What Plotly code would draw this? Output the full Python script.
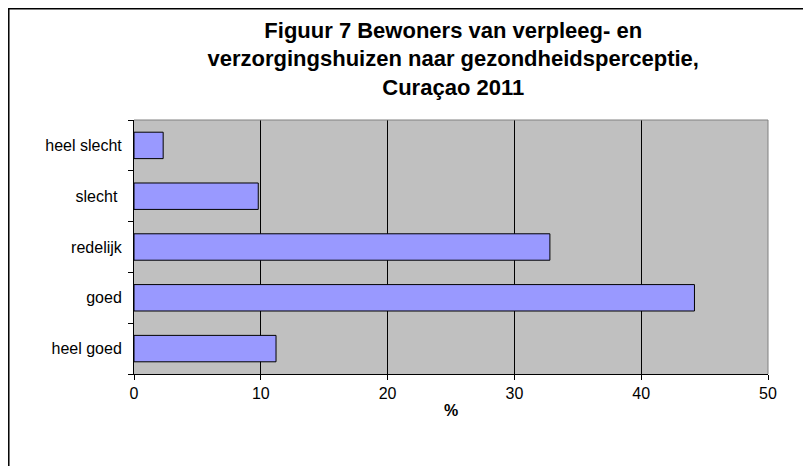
import plotly.graph_objects as go

categories = ["heel goed", "goed", "redelijk", "slecht ", "heel slecht"]
percentages = [11.2, 44.2, 32.8, 9.8, 2.3]
x_ticks = [0, 10, 20, 30, 40, 50]

fig = go.Figure()
fig.add_trace(go.Bar(
    y=categories, x=percentages, orientation="h",
    marker=dict(color="#9999FF", line=dict(color="#000000", width=1)),
    width=0.52,
))

# chart frame (left and top edges visible in the original)
fig.add_shape(type="rect", xref="paper", yref="paper",
              x0=-0.1975, x1=1.2, y0=-0.5, y1=1.438,
              line=dict(color="#000000", width=1.5), layer="below")
# plot area top/right border
fig.add_shape(type="line", xref="paper", yref="paper", x0=0, x1=1, y0=1, y1=1,
              line=dict(color="#808080", width=1))
fig.add_shape(type="line", xref="paper", yref="paper", x0=1, x1=1, y0=0, y1=1,
              line=dict(color="#808080", width=1))

fig.update_layout(
    width=811, height=466,
    paper_bgcolor="white", plot_bgcolor="#C0C0C0",
    margin=dict(l=126, r=51, t=112, b=100),
    font=dict(family="Liberation Sans, Arial, sans-serif", size=16, color="#000000"),
    title=dict(
        text="<b>Figuur 7 Bewoners van verpleeg- en<br>verzorgingshuizen naar gezondheidsperceptie,<br>Curaçao 2011</b>",
        x=0.549, xanchor="center", y=0.936, yanchor="middle",
        font=dict(size=22, family="Liberation Sans, Arial, sans-serif"),
    ),
    showlegend=False,
)
fig.update_xaxes(
    range=[0, 50], tickvals=x_ticks, showgrid=True, gridcolor="#000000", gridwidth=1,
    showline=True, linecolor="#000000", linewidth=1,
    ticks="outside", ticklen=5, tickcolor="#000000",
    zeroline=False,
    title=dict(text="<b>%</b>", font=dict(size=16), standoff=3),
)
fig.update_yaxes(
    showline=True, linecolor="#000000", linewidth=1,
    ticks="outside", ticklen=5, tickcolor="#000000",
    tickson="boundaries", showgrid=False,
    ticklabelstandoff=8,
)

fig.write_html("out.html")
